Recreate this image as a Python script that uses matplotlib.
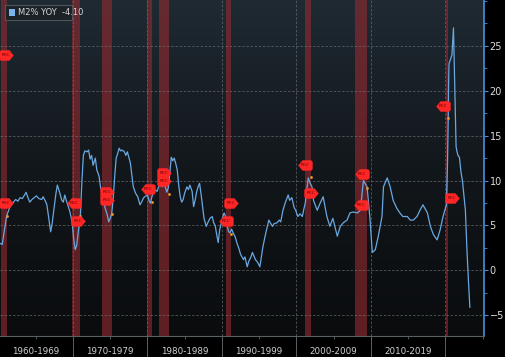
import matplotlib
matplotlib.use('Agg')
import matplotlib.pyplot as plt
import numpy as np
from matplotlib.path import Path
from matplotlib.patches import Rectangle
from matplotlib.ticker import MultipleLocator, FixedLocator
from matplotlib.colors import LinearSegmentedColormap

plt.rcParams['font.family'] = ['Liberation Sans Narrow', 'DejaVu Sans']

# ---------------- data ----------------
years = [1960.2, 1960.5, 1960.8, 1961.1, 1961.5, 1962.0, 1962.3, 1962.6, 1962.9, 1963.2,
         1963.5, 1963.7, 1964.0, 1964.2, 1964.5, 1964.8, 1965.1, 1965.4, 1965.8, 1966.0,
         1966.3, 1966.5, 1966.8, 1967.0, 1967.2, 1967.4, 1967.7, 1967.9, 1968.2, 1968.5,
         1968.7, 1968.9, 1969.1, 1969.3, 1969.6, 1969.9, 1970.1, 1970.3, 1970.5, 1970.7,
         1971.0, 1971.2, 1971.4, 1971.6, 1971.9, 1972.1, 1972.3, 1972.5, 1972.7, 1973.0,
         1973.2, 1973.5, 1973.7, 1974.0, 1974.3, 1974.6, 1974.8, 1975.0, 1975.2, 1975.4,
         1975.6, 1975.8, 1976.0, 1976.2, 1976.4, 1976.6, 1976.9, 1977.1, 1977.3, 1977.5,
         1977.7, 1977.9, 1978.1, 1978.4, 1978.7, 1979.0, 1979.2, 1979.5, 1979.8, 1980.0,
         1980.2, 1980.4, 1980.6, 1980.8, 1981.0, 1981.3, 1981.5, 1981.8, 1982.0, 1982.3,
         1982.6, 1982.8, 1983.0, 1983.2, 1983.4, 1983.6, 1983.8, 1984.0, 1984.2, 1984.4,
         1984.6, 1984.8, 1985.0, 1985.3, 1985.5, 1985.7, 1986.0, 1986.2, 1986.4, 1986.6,
         1986.8, 1987.0, 1987.2, 1987.4, 1987.6, 1987.9, 1988.1, 1988.4, 1988.7, 1988.9,
         1989.1, 1989.3, 1989.5, 1989.7, 1990.0, 1990.3, 1990.5, 1990.7, 1990.9, 1991.1,
         1991.3, 1991.5, 1991.8, 1992.0, 1992.3, 1992.5, 1992.7, 1992.9, 1993.1, 1993.4,
         1993.6, 1993.9, 1994.1, 1994.3, 1994.5, 1994.8, 1995.1, 1995.3, 1995.5, 1995.8,
         1996.0, 1996.3, 1996.5, 1996.8, 1997.0, 1997.4, 1997.7, 1997.9, 1998.2, 1998.5,
         1998.9, 1999.1, 1999.4, 1999.7, 1999.9, 2000.2, 2000.5, 2000.8, 2001.0, 2001.2,
         2001.4, 2001.6, 2001.8, 2002.1, 2002.3, 2002.8, 2003.2, 2003.6, 2004.1, 2004.5,
         2004.9, 2005.5, 2005.9, 2006.3, 2006.8, 2007.2, 2007.6, 2008.2, 2008.6, 2009.0,
         2009.5, 2009.9, 2010.2, 2010.6, 2011.0, 2011.5, 2011.7, 2012.2, 2012.6, 2013.0,
         2013.5, 2013.9, 2014.3, 2014.9, 2015.3, 2015.7, 2016.2, 2016.6, 2017.0, 2017.6,
         2018.0, 2018.4, 2018.9, 2019.3, 2019.7, 2020.15, 2020.3, 2020.4, 2020.45, 2020.5,
         2020.7, 2020.9, 2021.1, 2021.45, 2021.55, 2021.7, 2021.9, 2022.1, 2022.3, 2022.5,
         2022.7, 2022.9, 2023.1, 2023.3]
m2_yoy = [3.0, 2.9, 4.5, 6.1, 7.0, 7.6, 7.9, 7.7, 8.1, 8.0,
          8.4, 8.7, 8.0, 7.6, 7.9, 8.1, 8.3, 8.0, 7.9, 8.2,
          7.7, 7.3, 5.5, 4.3, 5.2, 6.5, 8.5, 9.5, 8.7, 7.8,
          7.6, 8.4, 7.8, 7.3, 6.5, 5.3, 3.5, 2.3, 2.8, 4.2,
          6.1, 10.0, 12.8, 13.3, 13.2, 13.4, 12.4, 12.8, 11.7, 12.5,
          11.2, 10.5, 9.3, 8.3, 7.0, 6.2, 5.4, 5.8, 6.3, 8.0,
          10.4, 12.5, 13.0, 13.6, 13.3, 13.4, 13.2, 12.8, 13.2, 12.6,
          12.0, 10.6, 9.3, 8.6, 8.2, 7.3, 7.6, 8.1, 8.3, 8.4,
          7.8, 7.5, 8.2, 8.7, 9.0, 8.8, 9.3, 9.5, 9.3, 9.6,
          8.7, 9.2, 10.8, 12.6, 12.2, 12.5, 11.9, 11.2, 9.5, 8.2,
          7.6, 7.9, 8.6, 9.3, 9.0, 9.5, 8.8, 7.1, 7.8, 8.7,
          9.3, 9.7, 8.5, 7.1, 5.8, 4.9, 5.3, 5.8, 6.0, 5.3,
          5.0, 4.0, 3.1, 4.5, 5.6, 6.4, 6.0, 5.0, 4.3, 4.2,
          4.6, 4.2, 3.7, 3.1, 2.4, 1.8, 1.5, 1.2, 1.5, 0.4,
          1.0, 1.5, 2.0, 1.6, 1.2, 0.9, 0.4, 1.5, 2.6, 3.8,
          4.5, 5.6, 5.3, 4.9, 5.2, 5.3, 5.6, 5.4, 6.7, 7.5,
          8.4, 7.8, 8.1, 7.0, 6.7, 6.0, 6.3, 6.0, 6.8, 7.5,
          9.0, 10.3, 9.8, 9.3, 7.8, 6.7, 7.5, 8.2, 6.0, 4.9,
          5.8, 3.8, 4.9, 5.3, 5.6, 6.4, 6.5, 6.4, 6.7, 10.0,
          9.3, 5.6, 2.0, 2.3, 3.8, 6.0, 9.3, 10.3, 9.3, 7.8,
          6.9, 6.4, 6.0, 6.0, 5.6, 5.6, 6.0, 6.7, 7.3, 6.4,
          4.9, 4.0, 3.4, 4.5, 6.0, 7.3, 12.0, 17.0, 21.0, 23.0,
          23.5, 24.0, 27.0, 13.8, 13.3, 12.8, 12.6, 11.0, 10.0, 8.3,
          6.7, 2.5, -1.0, -4.1]

rec_start = [1960.3, 1969.9, 1973.9, 1980.0, 1981.5, 1990.5, 2001.2, 2007.9, 2020.1]
rec_end = [1961.1, 1970.9, 1975.2, 1980.6, 1982.9, 1991.2, 2001.9, 2009.5, 2020.35]

mark_years = [1961.05, 1961.05, 1970.1, 1970.7, 1974.6, 1974.6, 1980.1, 1982.2, 1982.2,
              1990.6, 1991.2, 2001.2, 2002.0, 2008.8, 2008.7, 2019.7, 2020.9]
mark_vals = [24.0, 7.5, 7.5, 5.5, 8.7, 7.8, 9.1, 10.8, 10.0,
             5.5, 7.5, 11.7, 8.6, 10.7, 7.3, 18.3, 8.1]
mark_dir = ['R', 'R', 'L', 'R', 'R', 'R', 'L', 'R', 'R',
            'L', 'R', 'L', 'R', 'L', 'L', 'L', 'R']

dot_years = [1961.13, 1970.94, 1975.24, 1980.62, 1982.9, 1991.2, 2001.99, 2009.5, 2020.4]
dot_vals = [6.1, 6.1, 6.3, 7.6, 8.5, 4.1, 10.4, 9.2, 17.0]

decade_labels = ['1960-1969', '1970-1979', '1980-1989', '1990-1999', '2000-2009', '2010-2019']
decade_bounds = [1970, 1980, 1990, 2000, 2010, 2020]
label_pos = [1965, 1975, 1985, 1995, 2005, 2015]
y_ticks = [-5, 0, 5, 10, 15, 20, 25]

# ---------------- figure ----------------
W, H = 505, 357
fig = plt.figure(figsize=(W / 100, H / 100), dpi=100, facecolor='black')
ax = fig.add_axes([0, 21 / H, 484 / W, 336 / H])

grad = np.linspace(0, 1, 256).reshape(-1, 1)
cmap = LinearSegmentedColormap.from_list('bg', ['#0a0c0e', '#12171b', '#1f2a33'])
ax.imshow(grad, aspect='auto', cmap=cmap, origin='lower', extent=[0, 1, 0, 1],
          transform=ax.transAxes, zorder=0)
ax.set_xlim(1960.2, 2025.2)
ax.set_ylim(-7.3, 30.1)

for s, e in zip(rec_start, rec_end):
    ax.axvspan(s, e, color='#922a30', alpha=0.62, lw=0, zorder=1)

for y in y_ticks:
    ax.axhline(y, color='#70757a', lw=0.6, ls=(0, (3, 2)), alpha=0.7, zorder=2)
for xv in decade_bounds:
    ax.axvline(xv, color='#70757a', lw=0.6, ls=(0, (3, 2)), alpha=0.7, zorder=2)

ax.plot(years, m2_yoy, color='#6aa7e0', lw=0.9, zorder=4)

ax.scatter(dot_years, dot_vals, s=4, color='#e89a2a', zorder=5, lw=0)

right_path = Path([(-1, -0.5), (-0.8, -0.72), (0.4, -0.72), (1, 0), (0.4, 0.72),
                   (-0.8, 0.72), (-1, 0.5), (-1, -0.5)])
left_path = Path([(-x, y) for x, y in right_path.vertices])
for x, y, d in zip(mark_years, mark_vals, mark_dir):
    mk = right_path if d == 'R' else left_path
    ax.plot([x], [y], marker=mk, ms=10, color='#ff2626', mec='#ff2626', mew=0.3,
            zorder=6, clip_on=True)
    ax.text(x, y, 'REC', fontsize=3.2, color='#6b0000', ha='center', va='center', zorder=7,
            clip_on=True)

# axes styling
for sp in ['left', 'top']:
    ax.spines[sp].set_visible(False)
ax.spines['right'].set_color('#4a8fdc')
ax.spines['right'].set_linewidth(1.2)
ax.spines['bottom'].set_color('#5a5f63')
ax.spines['bottom'].set_linewidth(0.8)

ax.yaxis.tick_right()
ax.set_yticks(y_ticks)
ax.yaxis.set_minor_locator(MultipleLocator(2.5))
ax.tick_params(axis='y', which='major', colors='#4a8fdc', labelcolor='#dcdcdc',
               length=3, width=0.8, labelsize=7, pad=1)
ax.tick_params(axis='y', which='minor', colors='#4a8fdc', length=2, width=0.6)

ax.set_xticks(decade_bounds)
ax.set_xticklabels([])
ax.xaxis.set_minor_locator(FixedLocator(label_pos + [2025]))
ax.set_xticklabels(decade_labels + [''], minor=True)
ax.tick_params(axis='x', which='major', colors='#5a5f63', length=15, width=0.7)
ax.tick_params(axis='x', which='minor', colors='#5a5f63', labelcolor='#d0d0d0',
               length=2, width=0.6, labelsize=6.3, pad=6)

# legend box
fig.add_artist(Rectangle((5 / W, 1 - 20 / H), 67 / W, 15 / H, transform=fig.transFigure,
                         fc='#1b2329', ec='#4f555a', lw=0.8, zorder=10))
fig.add_artist(Rectangle((9 / W, 1 - 16 / H), 6 / W, 7 / H, transform=fig.transFigure,
                         fc='#7ab4ee', ec='none', zorder=11))
fig.text(18 / W, 1 - 12.5 / H, 'M2% YOY  -4.10', fontsize=6, color='#d6d6d6',
         ha='left', va='center', zorder=12)

fig.savefig('out.png', dpi=100, facecolor='black')
